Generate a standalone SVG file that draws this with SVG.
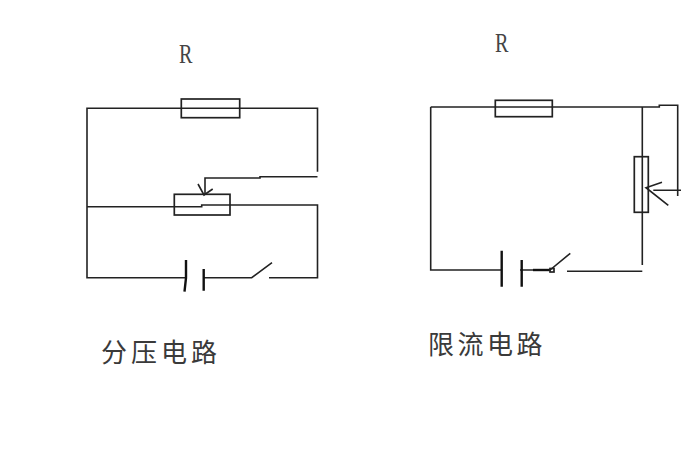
<svg xmlns="http://www.w3.org/2000/svg" width="700" height="473" viewBox="0 0 700 473">
<style>
.w{fill:none;stroke:#222;stroke-width:1.6;stroke-linecap:butt;stroke-linejoin:miter}
.b{fill:none;stroke:#111;stroke-width:2.4}
.box{fill:none;stroke:#222;stroke-width:1.7}
.r{font-family:"Liberation Serif",serif;font-size:28px;fill:#444}
.t{font-family:"Noto Sans CJK SC","Noto Sans CJK JP",sans-serif;font-size:26px;letter-spacing:4px;fill:#3a3a3a}
</style>
<rect width="700" height="473" fill="#fff"/>
<g id="connectors">
<path class="w" d="M317.500 171.700V108.300H87V277.700H186"/>
<path class="w" d="M87 206.700H201.700V205H317.500V277.700H269M204 277.700H251.700L272 262.700"/>
<path class="w" d="M317.500 176.700H260V178H205V195"/>
<path class="w" d="M198 184L204 195L212.700 189"/>
<path class="w" d="M430.700 107V270H501.700M430.700 107H659.300V105.300H677.700V196"/>
<path class="w" d="M642.300 107V265M642.300 271.300H567"/>
<path class="w" d="M653.300 190.300H681M662 182.300L646 187.700L668.300 205.300"/>
<path class="w" d="M520 270H550L570.300 253.300"/>
<path class="b" d="M533 270H550"/>
</g>
<g id="resistor-left"><rect class="box" x="181.300" y="99" width="58.400" height="18.700"/></g>
<g id="rheostat-left"><rect class="box" x="174.300" y="194.300" width="55.700" height="20.700"/></g>
<g id="battery-left"><path class="b" d="M186 260V278L184.500 291.700M203.700 269V290.700"/></g>
<g id="resistor-right"><rect class="box" x="495.300" y="100.300" width="57" height="16.400"/></g>
<g id="rheostat-right"><rect class="box" x="634.300" y="156.700" width="14" height="55.600"/></g>
<g id="battery-right"><path class="b" d="M501.700 250.700V286.700M521.700 260V286.700"/></g>
<g id="switch-right"><rect class="box" x="550" y="268.500" width="4" height="3.500"/></g>
<g id="labels">
<text class="r" transform="translate(179 62.500) scale(0.72 1)">R</text>
<text class="r" transform="translate(495 52) scale(0.72 1)">R</text>
<text class="t" x="101" y="362">分压电路</text>
<text class="t" x="428" y="354" style="letter-spacing:3.500px">限流电路</text>
</g>
</svg>
